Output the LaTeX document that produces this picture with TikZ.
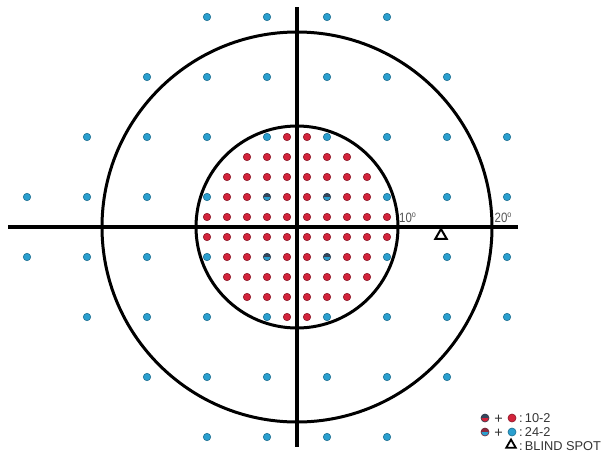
\documentclass[tikz,border=0pt]{standalone}
\usepackage{fontspec}
\setmainfont{Liberation Sans}
\newfontfamily\condfont[FakeStretch=0.85]{Liberation Sans}
\usetikzlibrary{shapes.geometric}
\definecolor{dotblue}{HTML}{2A9FCF}
\definecolor{dotblueedge}{HTML}{1B6F91}
\definecolor{dotred}{HTML}{D3233B}
\definecolor{dotrededge}{HTML}{8C1626}
\definecolor{darkslate}{HTML}{34465C}
\definecolor{darkmaroon}{HTML}{8E2A3E}
\definecolor{labelgray}{HTML}{555555}
\definecolor{legendgray}{HTML}{333333}
\tikzset{
  dotbase/.style={circle, inner sep=0pt, minimum size=7.4pt, line width=0.6pt},
  bdot/.style={dotbase, draw=dotblueedge, fill=dotblue},
  rdot/.style={dotbase, draw=dotrededge, fill=dotred},
  halfdot/.style 2 args={dotbase, draw=#1!80!black, fill=#2,
    path picture={\fill[#1] (path picture bounding box.north west) rectangle (path picture bounding box.east);}},
  ring/.style={draw=black, line width=3pt},
  axis/.style={draw=black, line width=4pt},
  bstri/.style={regular polygon, regular polygon sides=3, draw=black, line width=2pt, inner sep=0pt, minimum size=13pt},
  deglabel/.style={text=labelgray, font=\condfont\fontsize{13.5}{13.5}\selectfont, inner sep=0pt, anchor=base west},
  legtext/.style={text=legendgray, font=\fontsize{12.8}{13}\selectfont, inner sep=0pt, anchor=west},
  plus/.style={text=legendgray, font=\fontsize{14.5}{14.5}\selectfont, inner sep=0pt, anchor=base}
}
\begin{document}
\begin{tikzpicture}[x=1pt, y=-1pt]
\useasboundingbox (0,0) rectangle (604,474);
\fill[white] (0,0) rectangle (604,474);
\coordinate (C) at (297,227);
\coordinate (hl) at (8,227);
\coordinate (hr) at (518,227);
\coordinate (vt) at (297,7);
\coordinate (vb) at (297,447);
% circles and axes
\draw[ring] (C) circle[radius=195];
\draw[ring] (C) circle[radius=101];
\draw[axis] (hl) -- (hr);
\draw[axis] (vt) -- (vb);
% 24-2 points
\foreach \r/\a/\b in {-21/-9/9, -15/-15/15, -9/-21/21, -3/-27/21, 3/-27/21, 9/-21/21, 15/-15/15, 21/-9/9}{
  \foreach \c in {-27,-21,...,27}{
    \ifnum\c<\a\relax\else\ifnum\c>\b\relax\else
      \pgfmathtruncatemacro{\skipit}{(abs(\c)==3 && abs(\r)==3) ? 1 : 0}
      \ifnum\skipit=0
        \node[bdot] (b\r c\c) at ({297+10*\c},{227+10*\r}) {};
      \fi
    \fi\fi
  }
}
% 10-2 points
\foreach \r/\w in {-9/3,-7/5,-5/7,-3/9,-1/9,1/9,3/9,5/7,7/5,9/3}{
  \foreach \c in {-9,-7,...,9}{
    \ifnum\c<-\w\relax\else\ifnum\c>\w\relax\else
      \pgfmathtruncatemacro{\skipit}{(mod(abs(\c),6)==3 && mod(abs(\r),6)==3) ? 1 : 0}
      \ifnum\skipit=0
        \node[rdot] (r\r c\c) at ({297+10*\c},{227+10*\r}) {};
      \fi
    \fi\fi
  }
}
% shared points
\node[halfdot={darkslate}{dotblue}] (m1) at (267,197) {};
\node[halfdot={darkslate}{dotblue}] (m2) at (327,197) {};
\node[halfdot={darkslate}{dotblue}] (m3) at (267,257) {};
\node[halfdot={darkslate}{dotblue}] (m4) at (327,257) {};
% blind spot
\node[bstri] (bs) at (441,235.5) {};
% degree labels
\node[deglabel] (d10) at (399,222.5) {10\raisebox{0.4em}{\fontsize{8.5}{8.5}\selectfont o}};
\node[deglabel] (d20) at (494.5,222.5) {20\raisebox{0.4em}{\fontsize{8.5}{8.5}\selectfont o}};
% legend
\node[halfdot={darkslate}{dotred}, minimum size=8pt] (l1a) at (485,418) {};
\node[plus] (l1p) at (498.5,423) {+};
\node[rdot, minimum size=8pt] (l1b) at (512,418) {};
\node[legtext] (l1t) at (519,418) {:\,10-2};
\node[halfdot={darkmaroon}{dotblue}, minimum size=8pt] (l2a) at (485,432) {};
\node[plus] (l2p) at (498.5,437) {+};
\node[bdot, minimum size=8pt] (l2b) at (512,432) {};
\node[legtext] (l2t) at (519,432) {:\,24-2};
\node[bstri, minimum size=11pt, line width=1.8pt] (l3a) at (511,445) {};
\node[legtext] (l3t) at (519,446.5) {:\,BLIND SPOT};
\end{tikzpicture}
\end{document}
